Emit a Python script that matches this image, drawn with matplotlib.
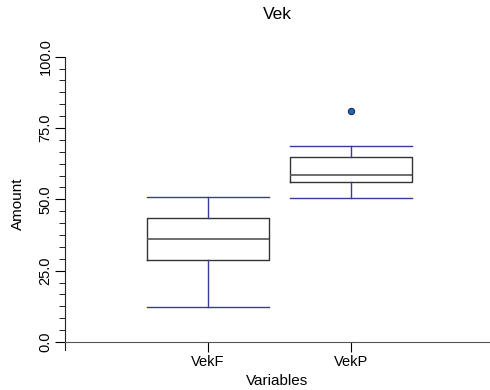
import matplotlib
matplotlib.use("Agg")
import matplotlib.pyplot as plt
from matplotlib.ticker import MultipleLocator, FixedLocator

plt.rcParams['font.family'] = ['Liberation Sans', 'DejaVu Sans']

categories = ["VekF", "VekP"]
whisker_low = [12.4, 50.3]
q1 = [28.8, 56.0]
median = [36.1, 58.7]
q3 = [43.3, 64.8]
whisker_high = [51.0, 68.8]
outliers = [[], [80.9]]

stats = []
for i, c in enumerate(categories):
    stats.append(dict(label=c, whislo=whisker_low[i], q1=q1[i], med=median[i],
                      q3=q3[i], whishi=whisker_high[i], fliers=outliers[i]))

fig = plt.figure(figsize=(4.9, 3.9), dpi=100)
ax = fig.add_axes([65/490, 40/390, 1 - 65/490, (350-56.7)/390])

ax.bxp(stats, positions=[1, 2], widths=0.85, showfliers=True,
       boxprops=dict(color='#333333', linewidth=1.0),
       medianprops=dict(color='#555555', linewidth=1.2),
       whiskerprops=dict(color='#3a3a9e', linewidth=1.0),
       capprops=dict(color='#3a3a9e', linewidth=1.0),
       capwidths=0.85,
       flierprops=dict(marker='o', markerfacecolor='#1f6f8f', markeredgecolor='#1a237e',
                       markersize=4.5, markeredgewidth=0.8))

ax.set_xlim(0, 2.97)
ax.set_ylim(-2.8, 100)
ax.spines['top'].set_visible(False)
ax.spines['right'].set_visible(False)
ax.spines['bottom'].set_position(('data', 0))
ax.spines['bottom'].set_color('#555555')
ax.spines['left'].set_color('#222222')
ax.spines['left'].set_bounds(-2.8, 100)

ax.yaxis.set_major_locator(FixedLocator([0, 25, 50, 75, 100]))
ax.yaxis.set_minor_locator(MultipleLocator(25/6))
ax.set_yticklabels(["0.0", "25.0", "50.0", "75.0", "100.0"], rotation=90, va='center')
ax.tick_params(axis='y', which='major', length=7, labelsize=10.5, pad=2)
ax.tick_params(axis='y', which='minor', length=4)
ax.set_xticks([1, 2])
ax.set_xticklabels(categories)
ax.tick_params(axis='x', length=7, labelsize=10.5, pad=2)

ax.set_title("Vek", fontsize=12.5, pad=27)
ax.set_ylabel("Amount", fontsize=11, labelpad=10)
ax.set_xlabel("Variables", fontsize=11, labelpad=4)

fig.savefig("out.png", dpi=100)
